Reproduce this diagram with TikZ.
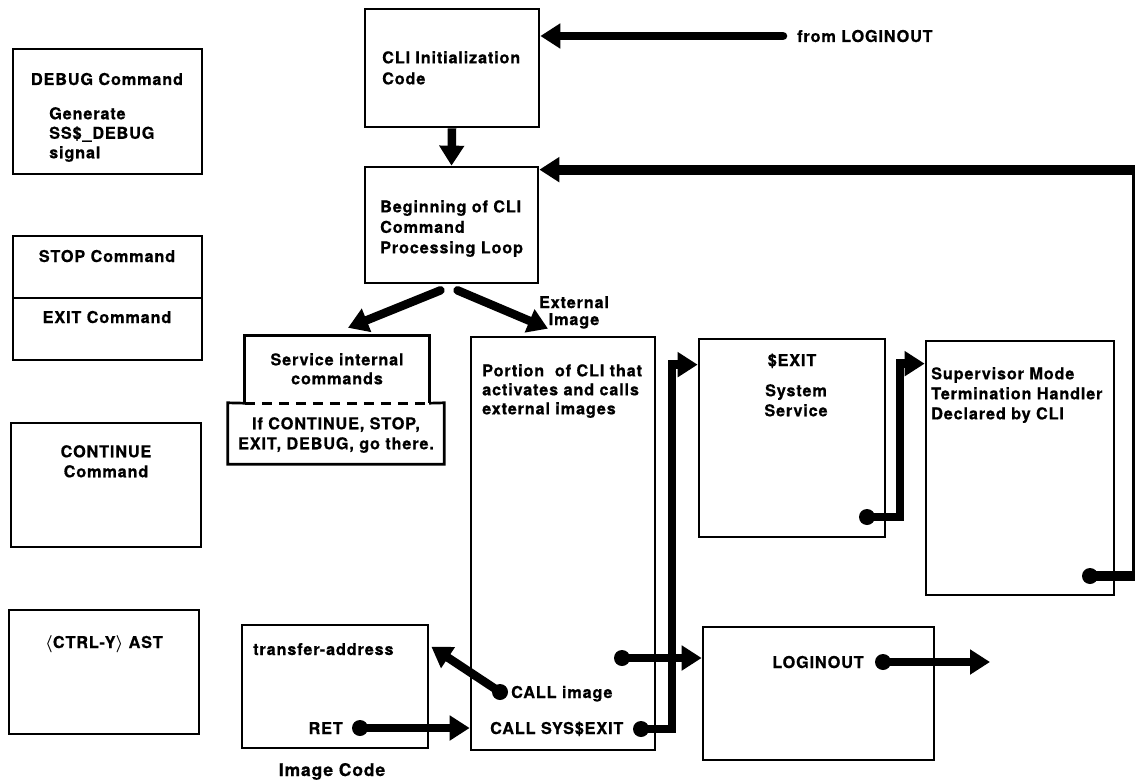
\documentclass[tikz,border=0pt]{standalone}
\usepackage{fontspec}
\newfontfamily\heros{TeX Gyre Heros}[LetterSpace=5, BoldFeatures={FakeBold=0.6}]
\usetikzlibrary{arrows.meta,fit}

\tikzset{
  box/.style={draw, line width=2.7pt, inner sep=0pt},
  lbl/.style={inner sep=0pt, font=\heros\bfseries\fontsize{16.3}{20}\selectfont},
  flow/.style={line width=8.5pt, line join=miter, -{Triangle[length=20pt,width=24pt]}},
  tail/.style={line cap=round},
  dot/.style={circle, fill, inner sep=0pt, minimum size=16pt},
  edge/.style={line width=2.7pt},
  cutline/.style={line width=2.7pt, dash pattern=on 10pt off 7pt},
}

\begin{document}
\begin{tikzpicture}[x=1pt,y=-1pt]
\useasboundingbox (0,0) rectangle (1135,781);

% ---- left column: commands and AST ----
\node[box, fit={(13,49)(202,174)}] (debug) {};
\node[box, fit={(13,236)(202,298)}] (stop) {};
\node[box, fit={(13,298)(202,360)}] (exit) {};
\node[box, fit={(11,423)(201,547)}] (cont) {};
\node[box, fit={(9,610)(199,734)}] (ctrly) {};

\node[lbl, anchor=base] (tdebug) at (107,85) {DEBUG Command};
\node[lbl, anchor=north west, align=left, font=\heros\bfseries\fontsize{16.3}{19.5}\selectfont] (tgen) at (49,107) {Generate\\SS\$\_DEBUG\\signal};
\node[lbl, anchor=base] (tstop) at (107,262) {STOP Command};
\node[lbl, anchor=base] (texit) at (107,323) {EXIT Command};
\node[lbl, anchor=north, align=center] (tcont) at (106,445) {CONTINUE\\Command};
\node[lbl, anchor=base] (tctrl) at (104,648) {{\boldmath$\langle$}CTRL-Y{\boldmath$\rangle$} AST};

% ---- CLI main path ----
\node[box, fit={(365,9)(539,127)}] (init) {};
\node[box, fit={(365,167)(538,283)}] (begin) {};
\node[lbl, anchor=north west, align=left, font=\heros\bfseries\fontsize{16.3}{21}\selectfont] (tinit) at (382,51) {CLI Initialization\\Code};
\node[lbl, anchor=north west, align=left, font=\heros\bfseries\fontsize{16.3}{20.5}\selectfont] (tbegin) at (380,200) {Beginning of CLI\\Command\\Processing Loop};
\node[lbl, anchor=base west] (tfrom) at (797,42) {from LOGINOUT};

% service box with its dashed split
\node[fit={(245,336)(429,403)}, inner sep=0pt] (svc) {};
\node[fit={(228,403)(444,464)}, inner sep=0pt] (svcx) {};
\draw[edge] (svc.south west) -- (svc.north west) -- (svc.north east) -- (svc.south east);
\draw[edge] (svc.south west) -- (svcx.north west) -- (svcx.south west)
  -- (svcx.south east) -- (svcx.north east) -- (svc.south east);
\draw[cutline] (svc.south west) -- (svc.south east);
\node[lbl, anchor=north, align=center, font=\heros\bfseries\fontsize{16.3}{19}\selectfont] (tsvc) at (337,353) {Service internal\\commands};
\node[lbl, anchor=north, align=center] (tif) at (336,417) {If CONTINUE, STOP,\\EXIT, DEBUG, go there.};

\node[box, fit={(471,337)(655,750)}] (portion) {};
\node[lbl, anchor=north west, align=left, font=\heros\bfseries\fontsize{16.3}{19}\selectfont] (tport) at (482,364) {Portion\ \ of CLI that\\activates and calls\\external images};
\node[lbl, anchor=north, align=center, font=\heros\bfseries\fontsize{16.3}{17}\selectfont] (text) at (574,296) {External\\Image};
\node[lbl, anchor=base west] (tcallimg) at (511,698) {CALL image};
\node[lbl, anchor=base west] (tcallexit) at (490,734) {CALL SYS\$EXIT};

\node[box, fit={(699,339)(885,537)}] (sexit) {};
\node[lbl, anchor=base] (tsexit) at (792,366) {\$EXIT};
\node[lbl, anchor=north, align=center] (tsys) at (796,384) {System\\Service};

\node[box, fit={(926,341)(1114,595)}] (super) {};
\node[lbl, anchor=north west, align=left] (tsuper) at (931,367) {Supervisor Mode\\Termination Handler\\Declared by CLI};

\node[box, fit={(242,625)(428,748)}] (xfer) {};
\node[lbl, anchor=base west] (txfer) at (253,655) {transfer-address};
\node[lbl, anchor=base east] (tret) at (343,734) {RET};
\node[lbl, anchor=base, font=\heros\bfseries\fontsize{17.5}{20}\selectfont] (timg) at (332,776) {Image Code};

\node[box, fit={(703,627)(934,760)}] (login) {};
\node[lbl, anchor=base] (tlogin) at (818,668) {LOGINOUT};

% ---- connectors ----
\coordinate (fromend) at (783,36);
\draw[flow, tail] (fromend) -- (fromend -| init.east);
\draw[flow] (init.south) -- (begin.north);

\node[dot] (dsuper) at (1090,576) {};
\draw[flow, line width=10pt] (dsuper.center) -- ++(47,0) |- ([yshift=-4pt]begin.north east);

\coordinate (bl) at ([xshift=-11pt,yshift=-6pt]begin.south);
\coordinate (br) at ([xshift=6pt,yshift=-6pt]begin.south);
\draw[flow, tail] (bl) -- ([xshift=11pt,yshift=8pt]svc.north);
\draw[flow, tail] (br) -- ([xshift=-15pt,yshift=7pt]portion.north);

\node[dot] (dexit) at (641,729) {};
\draw[flow] (dexit.center) -- ++(31,0) |- ([yshift=-27pt]sexit.north west);

\node[dot] (dsexit) at (867,517) {};
\draw[flow] (dsexit.center) -- ++(33,0) |- ([yshift=-24pt]super.north west);

\node[dot] (dmid) at (622,658) {};
\draw[flow] (dmid.center) -- (dmid -| login.west);

\node[dot] (dcall) at (500,692) {};
\draw[flow] (dcall.center) -- ([xshift=2pt,yshift=-23pt]xfer.north east);

\node[dot] (dret) at (360,728) {};
\draw[flow] (dret.center) -- (dret -| portion.west);

\node[dot] (dlog) at (883,662) {};
\coordinate (logout) at (990,662);
\draw[flow] (dlog.center) -- (logout);
\end{tikzpicture}
\end{document}
